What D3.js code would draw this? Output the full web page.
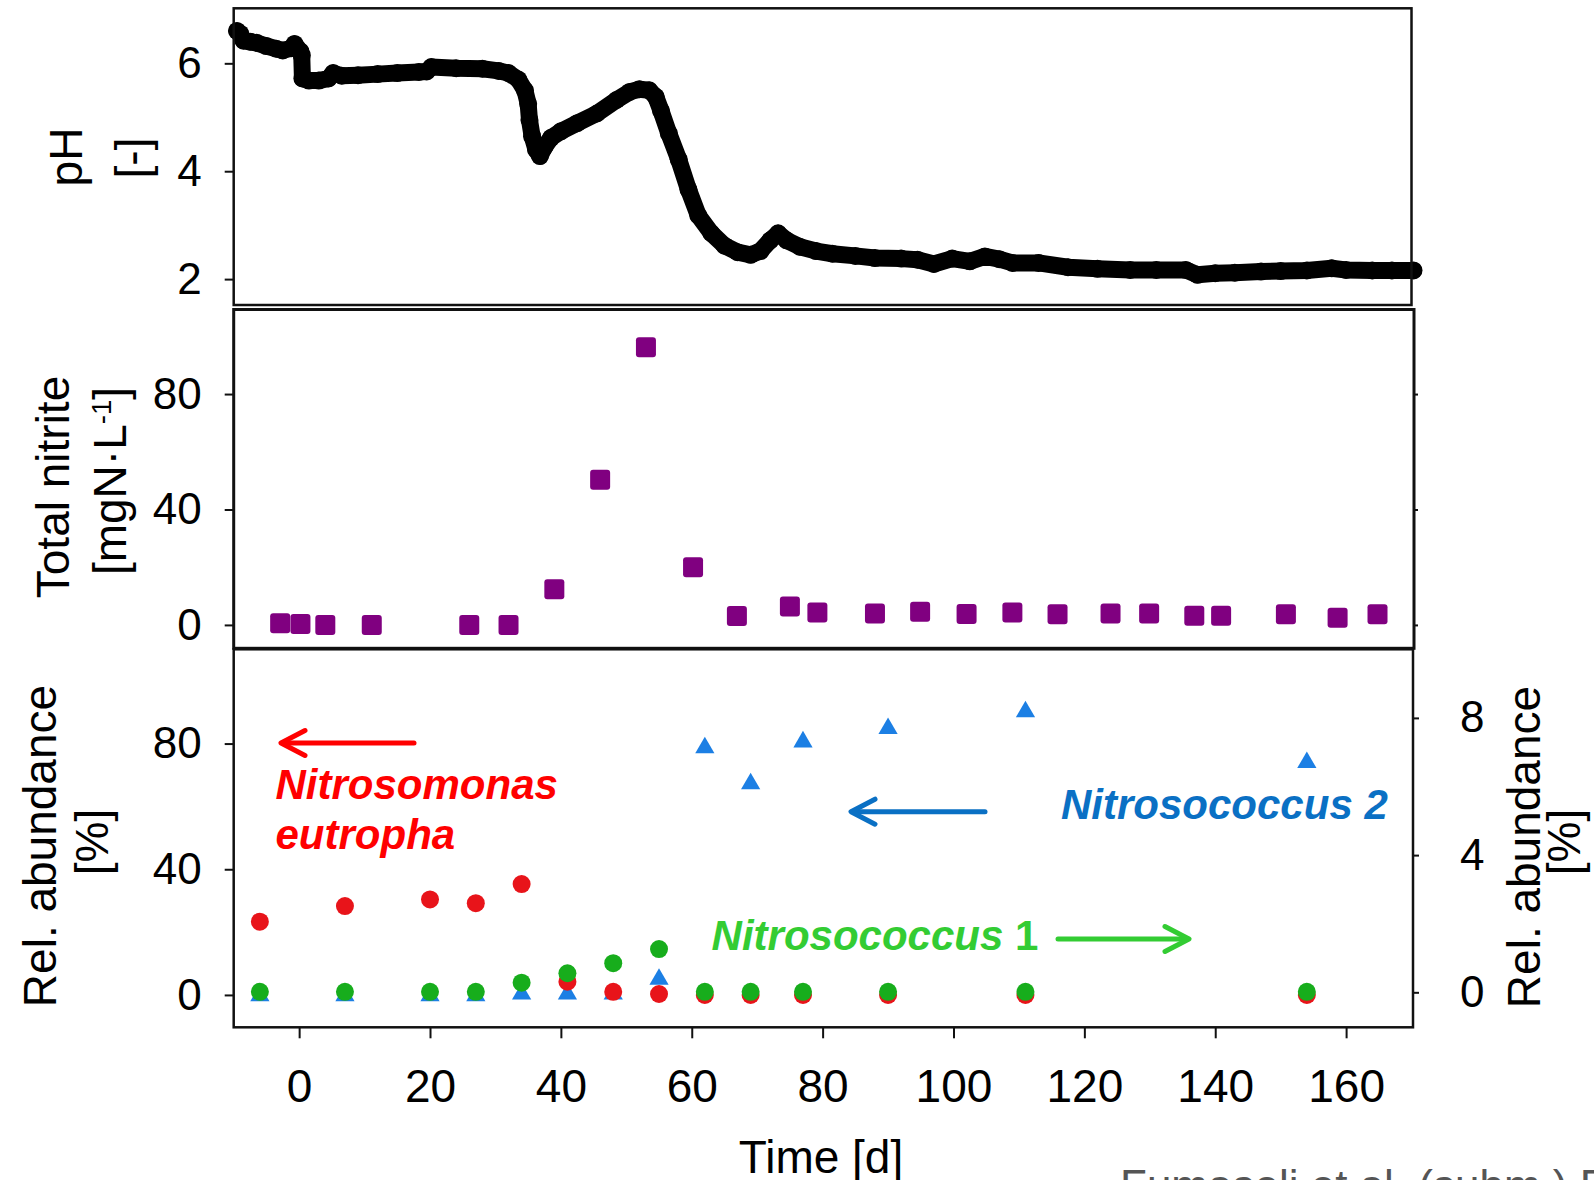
<!DOCTYPE html>
<html>
<head>
<meta charset="utf-8">
<script src="https://cdn.jsdelivr.net/npm/d3@7"></script>
<style>
  html, body { margin: 0; padding: 0; background: #fff; }
  svg { display: block; }
  text { font-family: "Liberation Sans", Arial, sans-serif; }
</style>
</head>
<body>
<svg id="chart" width="1594" height="1180"></svg>
<script>
// ---------------- DATA ----------------
// Panel 1: pH over time (dense sensor record)
const phDays = [-9.5, -9.0, -8.5, -7.5, -6.5, -5, -3.5, -2.5, -1.2, -0.7, 0.2, 0.4, 0.5, 1.5, 3, 4.5, 5.2, 6.5, 9, 12, 15, 18.3, 19.5, 20.2, 24, 28, 30.5, 32, 33.5, 34.5, 35, 35.2, 35.6, 36.2, 36.8, 37.5, 38.5, 40, 42.5, 45.5, 48.5, 50.5, 52, 53.5, 54.5, 55.3, 56.5, 58, 59.5, 61, 63, 65, 67, 69, 70.5, 72, 73.2, 74.5, 76.5, 79, 81.5, 85, 88, 92, 94.5, 97, 99.8, 102.5, 104.8, 107, 109, 113, 117.5, 122, 127, 131, 135.5, 137.3, 140, 143, 147, 150, 154, 157.8, 160, 164, 167, 170.3];
const phValues = [6.60, 6.55, 6.42, 6.40, 6.38, 6.32, 6.27, 6.24, 6.28, 6.36, 6.22, 6.15, 5.72, 5.68, 5.68, 5.72, 5.82, 5.77, 5.78, 5.80, 5.82, 5.84, 5.85, 5.93, 5.91, 5.90, 5.86, 5.82, 5.70, 5.50, 5.25, 4.95, 4.65, 4.40, 4.28, 4.45, 4.62, 4.74, 4.89, 5.07, 5.32, 5.47, 5.52, 5.50, 5.38, 5.12, 4.70, 4.22, 3.66, 3.18, 2.85, 2.62, 2.50, 2.45, 2.52, 2.72, 2.85, 2.72, 2.60, 2.52, 2.47, 2.43, 2.39, 2.38, 2.36, 2.28, 2.38, 2.33, 2.42, 2.37, 2.30, 2.30, 2.22, 2.19, 2.17, 2.17, 2.17, 2.08, 2.11, 2.12, 2.14, 2.15, 2.16, 2.20, 2.17, 2.16, 2.16, 2.16];

// Panel 2: total nitrite [mgN/L]
const nitriteDays = [-2.9, 0.2, 4.0, 11.1, 26.0, 32.0, 39.0, 46.0, 53.0, 60.2, 66.9, 75.0, 79.2, 88.0, 94.9, 102.0, 109.0, 115.9, 124.0, 129.9, 136.8, 140.9, 150.8, 158.7, 164.8];
const nitriteValues = [0.6, 0.35, 0, 0, 0, 0, 12.4, 50.3, 96.2, 20.0, 3.1, 6.4, 4.3, 4.0, 4.6, 3.8, 4.3, 3.7, 4.0, 4.0, 3.2, 3.2, 3.7, 2.5, 3.7];

// Panel 3: relative abundance
const abundanceDays = [-6, 7, 20, 27, 34, 41, 48, 55, 62, 69, 77, 90, 111, 154];
const nitrosomonas = [23.3, 28.3, 30.4, 29.2, 35.3, 4.2, 1.0, 0.3, 0, 0, 0, 0, 0, 0];            // left axis [%]
const nitrosococcus1 = [1.0, 1.0, 1.0, 1.0, 3.9, 6.9, 10.1, 14.6, 1.0, 1.0, 1.0, 1.0, 1.0, 1.0];   // left axis [%]
const nitrosococcus2 = [-0.1, -0.1, -0.1, -0.1, -0.05, -0.05, -0.05, 0.38, 7.13, 6.08, 7.3, 7.69, 8.18, 6.70]; // right axis [%]

// Tick values / labels
const xTicks = [0, 20, 40, 60, 80, 100, 120, 140, 160];
const phTicks = [2, 4, 6];
const nitriteTicks = [0, 40, 80];
const abundanceLeftTicks = [0, 40, 80];
const abundanceRightTicks = [0, 4, 8];

// ---------------- LAYOUT ----------------
const svg = d3.select("#chart");
const L = 233.7;
const P1 = {top: 8.3, bottom: 305, right: 1411.5};
const P2 = {top: 309.5, bottom: 648.3, right: 1414};
const P3 = {top: 649.3, bottom: 1027.3, right: 1413};

const x = d3.scaleLinear().domain([-10, 170.3]).range([L, 1413.5]);
const yPH = d3.scaleLinear().domain([1.52, 7.02]).range([P1.bottom, P1.top]);
const yN = d3.scaleLinear().domain([-8.1, 109.3]).range([P2.bottom, P2.top]);
const yL = d3.scaleLinear().domain([-10.3, 110]).range([P3.bottom, P3.top]);
const yR = d3.scaleLinear().domain([-1.02, 10.0]).range([P3.bottom, P3.top]);

const FS = 44;
const ink = "#111";

function styleAxis(g, fs) {
  g.select(".domain").remove();
  g.selectAll(".tick line").attr("stroke", ink).attr("stroke-width", 2);
  g.selectAll(".tick text").attr("fill", "#000").style("font-size", fs + "px")
    .style("font-family", '"Liberation Sans", Arial, sans-serif');
}

// ---------------- PANEL 1: pH ----------------
const phData = phDays.map((d, i) => [d, phValues[i]]);
svg.append("path")
  .datum(phData)
  .attr("d", d3.line().x(d => x(d[0])).y(d => yPH(d[1])))
  .attr("fill", "none").attr("stroke", "#000")
  .attr("stroke-width", 17).attr("stroke-linejoin", "round").attr("stroke-linecap", "round");
svg.append("g").selectAll("circle").data(phData).join("circle")
  .attr("cx", d => x(d[0])).attr("cy", d => yPH(d[1])).attr("r", 9).attr("fill", "#000");

svg.append("g").attr("transform", `translate(${L},0)`)
  .call(d3.axisLeft(yPH).tickValues(phTicks).tickSize(9).tickPadding(23).tickFormat(d3.format("d")))
  .call(g => styleAxis(g, FS));

svg.append("rect").attr("x", L).attr("y", P1.top).attr("width", P1.right - L).attr("height", P1.bottom - P1.top)
  .attr("fill", "none").attr("stroke", ink).attr("stroke-width", 2.5);

// ---------------- PANEL 2: nitrite ----------------
svg.append("g").selectAll("rect").data(nitriteDays.map((d, i) => [d, nitriteValues[i]])).join("rect")
  .attr("x", d => x(d[0]) - 10).attr("y", d => yN(d[1]) - 10)
  .attr("width", 20).attr("height", 20).attr("rx", 3)
  .attr("fill", "#800080");

svg.append("g").attr("transform", `translate(${L},0)`)
  .call(d3.axisLeft(yN).tickValues(nitriteTicks).tickSize(9).tickPadding(23))
  .call(g => styleAxis(g, FS));
svg.append("g").attr("transform", `translate(${P2.right},0)`)
  .call(d3.axisRight(yN).tickValues(nitriteTicks).tickSize(4).tickFormat(""))
  .call(g => styleAxis(g, FS));

svg.append("rect").attr("x", L).attr("y", P2.top).attr("width", P2.right - L).attr("height", P2.bottom - P2.top)
  .attr("fill", "none").attr("stroke", ink).attr("stroke-width", 3);

// ---------------- PANEL 3: abundance ----------------
const gBlue = svg.append("g");
gBlue.selectAll("path").data(abundanceDays.map((d, i) => [d, nitrosococcus2[i]])).join("path")
  .attr("transform", d => `translate(${x(d[0])},${yR(d[1])})`)
  .attr("d", d3.symbol(d3.symbolTriangle, 160))
  .attr("fill", "#1c7fe4");
svg.append("g").selectAll("circle").data(abundanceDays.map((d, i) => [d, nitrosomonas[i]])).join("circle")
  .attr("cx", d => x(d[0])).attr("cy", d => yL(d[1])).attr("r", 9).attr("fill", "#e8141a");
svg.append("g").selectAll("circle").data(abundanceDays.map((d, i) => [d, nitrosococcus1[i]])).join("circle")
  .attr("cx", d => x(d[0])).attr("cy", d => yL(d[1])).attr("r", 9).attr("fill", "#17ad1c");

svg.append("g").attr("transform", `translate(${L},0)`)
  .call(d3.axisLeft(yL).tickValues(abundanceLeftTicks).tickSize(9).tickPadding(23))
  .call(g => styleAxis(g, FS));
svg.append("g").attr("transform", `translate(${P3.right},0)`)
  .call(d3.axisRight(yR).tickValues(abundanceRightTicks).tickSize(6).tickPadding(41))
  .call(g => styleAxis(g, FS));

svg.append("rect").attr("x", L).attr("y", P3.top).attr("width", P3.right - L).attr("height", P3.bottom - P3.top)
  .attr("fill", "none").attr("stroke", ink).attr("stroke-width", 2.5);

// X axis
svg.append("g").attr("transform", `translate(0,${P3.bottom})`)
  .call(d3.axisBottom(x).tickValues(xTicks).tickSize(11))
  .call(g => styleAxis(g, 46))
  .call(g => g.selectAll(".tick text").attr("dy", null).attr("y", 74.7));

// ---------------- AXIS TITLES ----------------
function vlabel(xb, yc, parts, fs) {
  const t = svg.append("text")
    .attr("transform", `translate(${xb},${yc}) rotate(-90)`)
    .attr("text-anchor", "middle").style("font-size", fs + "px").attr("fill", "#000");
  parts.forEach(p => {
    const s = t.append("tspan").text(p.t);
    if (p.sup) s.attr("baseline-shift", "super").style("font-size", (fs * 0.6) + "px");
  });
  return t;
}
vlabel(82, 157, [{t: "pH"}], 46);
vlabel(148, 158, [{t: "[-]"}], 46);
vlabel(69, 487, [{t: "Total nitrite"}], 46);
vlabel(125.5, 481, [{t: "[mgN\u00B7L"}, {t: "-1", sup: true}, {t: "]"}], 46);
vlabel(56, 846, [{t: "Rel. abundance"}], 46);
vlabel(108, 842, [{t: "[%]"}], 46);
vlabel(1540, 847, [{t: "Rel. abundance"}], 46);
vlabel(1580, 842, [{t: "[%]"}], 46);

svg.append("text").attr("x", 821).attr("y", 1173).attr("text-anchor", "middle")
  .style("font-size", "46px").attr("fill", "#000").text("Time [d]");

svg.append("text").attr("x", 1120).attr("y", 1201)
  .style("font-size", "44px").attr("fill", "#555").text("Fumasoli et al. (subm.) F");

// ---------------- ANNOTATIONS ----------------
function arrow(x1, x2, y, color) {
  // x2 is the tip
  const dir = x2 < x1 ? 1 : -1;
  const g = svg.append("g").attr("stroke", color).attr("stroke-width", 5).attr("fill", "none")
    .attr("stroke-linecap", "round").attr("stroke-linejoin", "round");
  g.append("line").attr("x1", x1).attr("x2", x2 + dir * 2).attr("y1", y).attr("y2", y);
  g.append("path").attr("d", `M${x2 + dir * 24},${y - 12.5} L${x2},${y} L${x2 + dir * 24},${y + 12.5}`);
}
arrow(414, 281, 743, "#ff0000");
arrow(985, 851, 811.7, "#0a70c4");
arrow(1058, 1189, 939, "#33cc33");

function note(xs, yb, parts, color) {
  const t = svg.append("text").attr("x", xs).attr("y", yb).attr("fill", color)
    .style("font-size", "42px").style("font-weight", "bold");
  parts.forEach(p => t.append("tspan").text(p.t).style("font-style", p.upright ? "normal" : "italic"));
}
note(275.5, 798.5, [{t: "Nitrosomonas"}], "#ff0000");
note(275.5, 848.5, [{t: "eutropha"}], "#ff0000");
note(1061, 819, [{t: "Nitrosococcus 2"}], "#0a70c4");
note(711.6, 950, [{t: "Nitrosococcus"}, {t: " 1", upright: true}], "#33cc33");
</script>
</body>
</html>
